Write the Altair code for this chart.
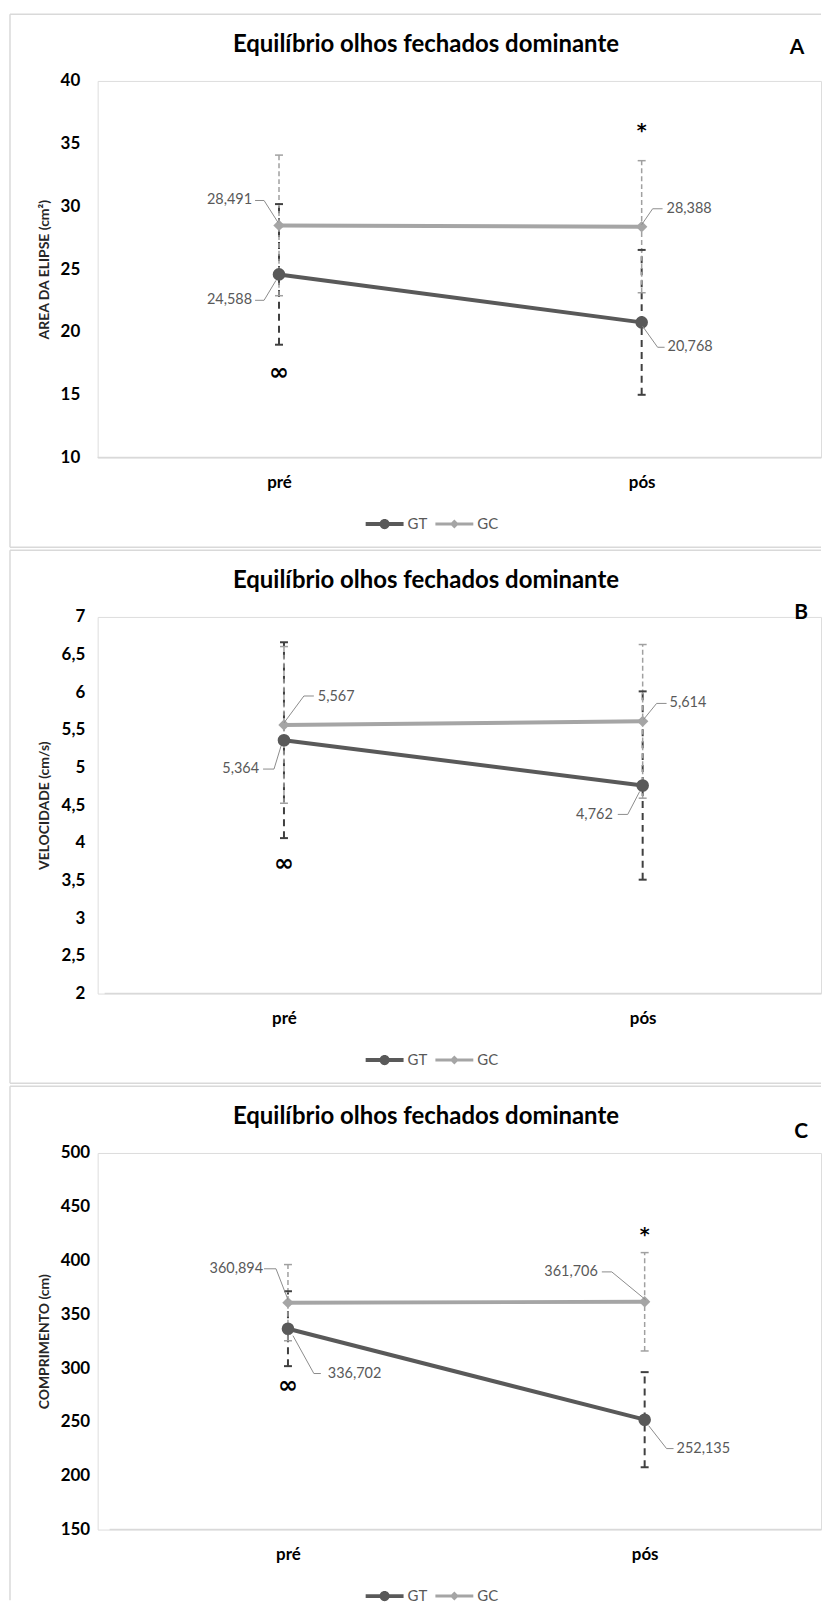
import altair as alt
import pandas as pd

# ---------------- data ----------------
categories = ["pré", "pós"]
groups = ["GT", "GC"]
chart_title = "Equilíbrio olhos fechados dominante"

# Painel A
a_letter = "A"
a_ytitle = "AREA DA ELIPSE (cm²)"
a_gt_mean = [24.588, 20.768]
a_gc_mean = [28.491, 28.388]
a_gt_sd = [5.60, 5.77]
a_gc_sd = [5.60, 5.26]
a_yticks = [10, 15, 20, 25, 30, 35, 40]
a_sig_cat = ["pós", "pré"]
a_sig_val = [36.0, 16.75]
a_sig_sym = ["*", "∞"]

# Painel B
b_letter = "B"
b_ytitle = "VELOCIDADE (cm/s)"
b_gt_mean = [5.364, 4.762]
b_gc_mean = [5.567, 5.614]
b_gt_sd = [1.30, 1.25]
b_gc_sd = [1.04, 1.02]
b_yticks = [2, 2.5, 3, 3.5, 4, 4.5, 5, 5.5, 6, 6.5, 7]
b_sig_cat = ["pré"]
b_sig_val = [3.72]
b_sig_sym = ["∞"]

# Painel C
c_letter = "C"
c_ytitle = "COMPRIMENTO (cm)"
c_gt_mean = [336.702, 252.135]
c_gc_mean = [360.894, 361.706]
c_gt_sd = [34.8, 44.2]
c_gc_sd = [35.4, 45.7]
c_yticks = [150, 200, 250, 300, 350, 400, 450, 500]
c_sig_cat = ["pós", "pré"]
c_sig_val = [424.0, 283.0]
c_sig_sym = ["*", "∞"]

# ---------------- layout / style ----------------
W, H = 726, 378
FONT = "Lato"
SERIES_COL = ["#595959", "#a5a5a5"]
ERR_COL = ["#404040", "#a0a0a0"]
LABEL_COL = "#595959"
BORDER_COL = "#d9d9d9"
# legend symbols: line segment with the series marker (units of 6 px)
GT_SYM = ("M-3.17,-0.33L3.17,-0.33L3.17,0.33L-3.17,0.33Z "
          "M-0.85,0A0.85,0.85,0,1,1,0.85,0A0.85,0.85,0,1,1,-0.85,0Z")
GC_SYM = ("M-3.17,-0.25L3.17,-0.25L3.17,0.25L-3.17,0.25Z "
          "M0,-0.75L0.75,0L0,0.75L-0.75,0Z")

layout_a = {
    "xdom": [-0.5, 1.4945], "lpad": 18, "letter_xy": (702, -27), "bottom": True, "left_end": 468,
    "callouts": {
        ("GC", "pré"): ("right", -27, -25, [(-1, -3), (-15, -25), (-24, -25)]),
        ("GT", "pré"): ("right", -27, 26, [(-3, 6), (-15, 26), (-24, 26)]),
        ("GC", "pós"): ("left", 25, -18, [(0, -2), (11, -18), (21, -18)]),
        ("GT", "pós"): ("left", 26, 25, [(1, 4), (16, 25), (23, 25)]),
    },
}
layout_b = {
    "xdom": [-0.5194, 1.4972], "lpad": 13, "letter_xy": (706, 2), "bottom": True, "left_end": 468,
    "callouts": {
        ("GC", "pré"): ("left", 34, -28, [(0, -2), (20, -29), (30, -29)]),
        ("GT", "pré"): ("right", -25, 29, [(-3, 6), (-10, 29), (-21, 29)]),
        ("GC", "pós"): ("left", 27, -18, [(1, -2), (14, -18), (24, -18)]),
        ("GT", "pós"): ("right", -30, 30, [(-3, 6), (-15, 29), (-25, 29)]),
    },
}
layout_c = {
    "xdom": [-0.5335, 1.4944], "lpad": 8, "letter_xy": (706, -15), "bottom": False, "left_end": 449,
    "callouts": {
        ("GC", "pré"): ("right", -25, -34, [(0, -3), (-12, -34), (-24, -34)]),
        ("GT", "pré"): ("left", 40, 45, [(5, 7), (26, 45), (33, 45)]),
        ("GC", "pós"): ("right", -47, -30, [(1, -2), (-33, -30), (-43, -30)]),
        ("GT", "pós"): ("left", 32, 29, [(4, 6), (22, 29), (29, 29)]),
    },
}

one = pd.DataFrame({"d": [0]})


def make_panel(letter, ytitle, gt_mean, gc_mean, gt_sd, gc_sd, yticks,
               sig_cat, sig_val, sig_sym, lay):
    rows = []
    for g, means, sds in (("GT", gt_mean, gt_sd), ("GC", gc_mean, gc_sd)):
        for i, c in enumerate(categories):
            m, s = means[i], sds[i]
            rows.append({"grupo": g, "categoria": c, "xi": i, "v": m, "lo": m - s, "hi": m + s,
                         "label": f"{m:.3f}".replace(".", ",")})
    df = pd.DataFrame(rows)

    ydom = [yticks[0], yticks[-1]]
    xdom = lay["xdom"]
    pxx = W / (xdom[1] - xdom[0])
    pxy = H / (ydom[1] - ydom[0])

    trows, lrows = [], []
    for r in rows:
        align, tx, ty, pts = lay["callouts"][(r["grupo"], r["categoria"])]
        trows.append({"align": align, "label": r["label"],
                      "tx": r["xi"] + tx / pxx, "ty": r["v"] - ty / pxy})
        for k, (ox, oy) in enumerate(pts):
            lrows.append({"lid": f"{r['grupo']}-{r['categoria']}", "seq": k,
                          "lx": r["xi"] + ox / pxx, "ly": r["v"] - oy / pxy})
    tdf = pd.DataFrame(trows)
    ldf = pd.DataFrame(lrows)

    sdf = pd.DataFrame({"xi": [categories.index(c) for c in sig_cat], "v": sig_val,
                        "sym": sig_sym,
                        "fs": [24 if s == "∞" else 19 for s in sig_sym]})

    base_df = pd.DataFrame({"x0": [-0.5], "x1": [min(1.5, xdom[1])], "y0": [ydom[0]]})

    xs = alt.Scale(domain=xdom, nice=False, zero=False)
    ys = alt.Scale(domain=ydom, nice=False, zero=False)
    xaxis = alt.Axis(values=[0, 1], title=None,
                     labelExpr=f"['{categories[0]}','{categories[1]}'][datum.value]",
                     labelFont=FONT, labelFontSize=17, labelFontWeight="bold", labelColor="black",
                     labelPadding=17, tickSize=0, ticks=False, domain=False, grid=False,
                     labelFlush=False, labelOverlap=False)
    yaxis = alt.Axis(values=yticks, title=ytitle,
                     labelExpr="replace(toString(datum.value), '.', ',')",
                     labelFont=FONT, labelFontSize=17, labelFontWeight="bold", labelColor="black",
                     labelPadding=lay["lpad"], tickSize=0, ticks=False, domain=False, grid=False,
                     labelFlush=False, labelOverlap=False,
                     titleFont=FONT, titleFontSize=14, titleFontWeight="bold", titleColor="#262626",
                     titleX=-53, titleY=H / 2, titleAngle=-90, titleBaseline="middle",
                     titleAlign="center")

    def X(f):
        return alt.X(f, type="quantitative", scale=xs, axis=xaxis)

    def Y(f):
        return alt.Y(f, type="quantitative", scale=ys, axis=yaxis)

    gscale = alt.Scale(domain=groups, range=SERIES_COL)
    escale = alt.Scale(domain=groups, range=ERR_COL)

    layers = []
    # panel frame
    layers.append(alt.Chart(one).mark_rule(color=BORDER_COL, strokeWidth=1.5).encode(
        x=alt.value(-88), x2=alt.value(W), y=alt.value(-67)))
    layers.append(alt.Chart(one).mark_rule(color=BORDER_COL, strokeWidth=1.5).encode(
        x=alt.value(-88), y=alt.value(-67), y2=alt.value(lay["left_end"])))
    if lay["bottom"]:
        layers.append(alt.Chart(one).mark_rule(color=BORDER_COL, strokeWidth=1.5).encode(
            x=alt.value(-88), x2=alt.value(W), y=alt.value(468)))
    # baseline
    layers.append(alt.Chart(base_df).mark_rule(color="#d9d9d9", strokeWidth=1.5).encode(
        x=X("x0"), x2="x1", y=Y("y0")))
    # series lines
    layers.append(alt.Chart(df).mark_line(strokeWidth=4).encode(
        x=X("xi"), y=Y("v"),
        color=alt.Color("grupo:N", scale=gscale, legend=None),
        detail="grupo:N"))
    # error bars
    layers.append(alt.Chart(df).mark_rule().encode(
        x=X("xi"), y=Y("lo"), y2="hi",
        color=alt.Color("grupo:N", scale=escale, legend=None),
        strokeDash=alt.StrokeDash("grupo:N", scale=alt.Scale(domain=groups, range=[[7, 5], [5, 3]]),
                                  legend=None),
        strokeWidth=alt.StrokeWidth("grupo:N", scale=alt.Scale(domain=groups, range=[2, 1.5]),
                                    legend=None)))
    # caps
    layers.append(alt.Chart(df).transform_fold(["lo", "hi"], as_=["end", "yv"]).mark_point(
        shape="stroke", size=64, filled=False, opacity=1).encode(
        x=X("xi"), y=Y("yv:Q"),
        color=alt.Color("grupo:N", scale=escale, legend=None),
        strokeWidth=alt.StrokeWidth("grupo:N", scale=alt.Scale(domain=groups, range=[2, 1.5]),
                                    legend=None)))
    # markers
    layers.append(alt.Chart(df).mark_point(filled=True, opacity=1).encode(
        x=X("xi"), y=Y("v"),
        color=alt.Color("grupo:N", scale=gscale, legend=None),
        shape=alt.Shape("grupo:N", scale=alt.Scale(domain=groups, range=["circle", "diamond"]),
                        legend=None),
        size=alt.Size("grupo:N", scale=alt.Scale(domain=groups, range=[160, 130]), legend=None)))
    # callout leader lines
    layers.append(alt.Chart(ldf).mark_line(color="#8c8c8c", strokeWidth=1).encode(
        x=X("lx"), y=Y("ly"), detail="lid:N", order="seq:Q"))
    # callout labels
    for al in ("left", "right"):
        layers.append(alt.Chart(tdf).transform_filter(alt.datum.align == al).mark_text(
            align=al, baseline="middle", font=FONT, fontSize=14.5, color=LABEL_COL).encode(
            x=X("tx"), y=Y("ty"), text="label:N"))
    # significance symbols
    layers.append(alt.Chart(sdf).mark_text(
        align="center", baseline="middle", font="DejaVu Sans", fontWeight="bold", color="black").encode(
        x=X("xi"), y=Y("v"), text="sym:N", size=alt.Size("fs:Q", scale=None)))
    # legend (invisible marks carrying the legend)
    leg = alt.Legend(title=None, orient="none", legendX=280.5, legendY=437, direction="horizontal",
                     symbolSize=144, symbolStrokeWidth=0, symbolOpacity=1,
                     labelFont=FONT, labelFontSize=15, labelColor=LABEL_COL, labelOffset=15.5,
                     columnPadding=7, padding=0)
    layers.append(alt.Chart(df).mark_point(filled=True, opacity=0, size=144).encode(
        x=X("xi"), y=Y("v"),
        color=alt.Color("grupo:N", scale=gscale, legend=leg),
        shape=alt.Shape("grupo:N", scale=alt.Scale(domain=groups, range=[GT_SYM, GC_SYM]), legend=leg)))
    # title and panel letter
    layers.append(alt.Chart(pd.DataFrame({"t": [chart_title]})).mark_text(
        font=FONT, fontSize=24, fontWeight="bold", color="black", align="center",
        baseline="alphabetic").encode(text="t:N", x=alt.value(329.5), y=alt.value(-29)))
    lx, ly = lay["letter_xy"]
    layers.append(alt.Chart(pd.DataFrame({"t": [letter]})).mark_text(
        font=FONT, fontSize=21, fontWeight="bold", color="black", align="center",
        baseline="alphabetic").encode(text="t:N", x=alt.value(lx), y=alt.value(ly)))

    return alt.layer(*layers).resolve_scale(
        color="independent", shape="independent", size="independent",
        strokeDash="independent", strokeWidth="independent"
    ).properties(width=W, height=H)


pa = make_panel(a_letter, a_ytitle, a_gt_mean, a_gc_mean, a_gt_sd, a_gc_sd, a_yticks,
                a_sig_cat, a_sig_val, a_sig_sym, layout_a)
pb = make_panel(b_letter, b_ytitle, b_gt_mean, b_gc_mean, b_gt_sd, b_gc_sd, b_yticks,
                b_sig_cat, b_sig_val, b_sig_sym, layout_b)
pc = make_panel(c_letter, c_ytitle, c_gt_mean, c_gc_mean, c_gt_sd, c_gc_sd, c_yticks,
                c_sig_cat, c_sig_val, c_sig_sym, layout_c)

chart = alt.VConcatChart(vconcat=[pa, pb, pc], spacing=160, bounds="flush").properties(
    padding={"top": 1.25, "left": 0, "right": 0, "bottom": 0}
).configure_view(stroke=None).configure(font=FONT, background="white")

chart.save("out.html", embed_options={"renderer": "svg", "actions": False})
